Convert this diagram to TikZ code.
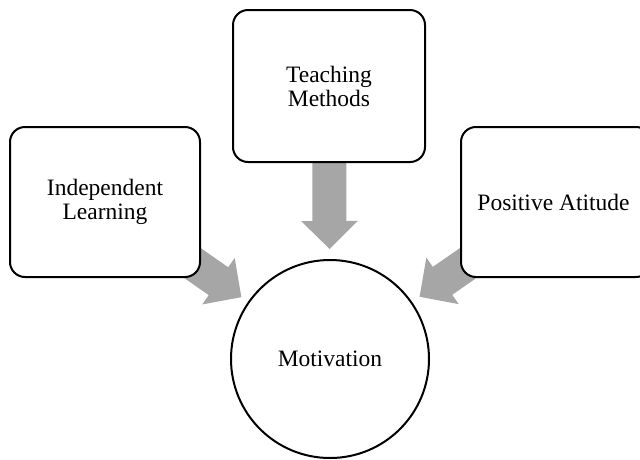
\documentclass[tikz,border=0pt]{standalone}
\usepackage{fontspec}
\setmainfont{Liberation Serif}
\usetikzlibrary{arrows.meta,backgrounds}
\definecolor{arrowgray}{RGB}{166,166,166}
\begin{document}
\begin{tikzpicture}[x=1pt,y=-1pt,
  box/.style={draw=black, line width=2pt, rounded corners=15pt, fill=white,
    minimum width=190pt, minimum height=150pt, align=center, inner sep=0pt,
    font=\fontsize{23.5pt}{24pt}\selectfont},
  circ/.style={draw=black, line width=2pt, circle, fill=white, minimum size=198pt,
    inner sep=0pt, font=\fontsize{23.5pt}{24pt}\selectfont},
  bigarrow/.style={draw=arrowgray, line width=34pt,
    -{Triangle[width=55pt,length=28pt]}}
]
\useasboundingbox (0,0) rectangle (640,459);
\clip (0,0) rectangle (640,459);
\node[box] (L) at (105,202) {Independent\\Learning};
\node[box, minimum width=192pt, minimum height=152pt] (T) at (329,86) {Teaching\\Methods};
\node[box] (R) at (556,202) {\hspace*{-5pt}Positive Atitude};
\node[circ] (C) at (330,359) {Motivation};
\begin{pgfonlayer}{background}
\draw[bigarrow, shorten >=8pt] (L.center) -- (C);
\draw[bigarrow, shorten >=10pt] (T) -- (C);
\draw[bigarrow, shorten >=9pt] (R.center) -- (C);
\end{pgfonlayer}
\end{tikzpicture}
\end{document}
